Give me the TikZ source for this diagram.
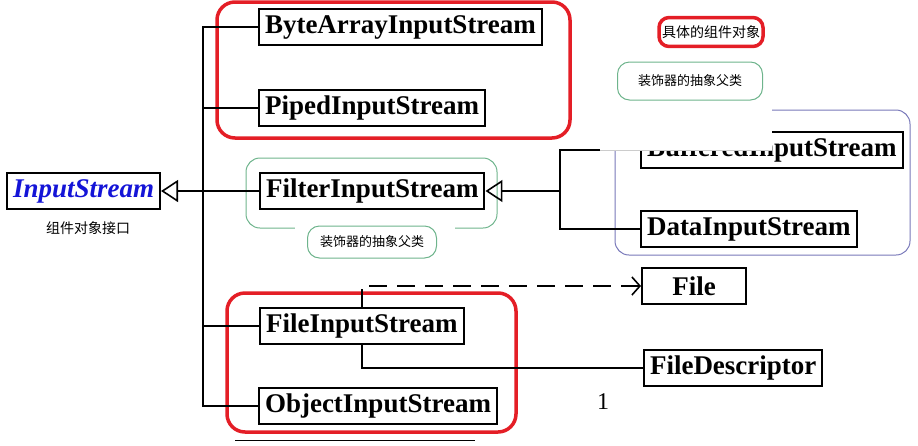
\documentclass[tikz,border=0pt]{standalone}
\usepackage{fontspec}
\setmainfont{Liberation Serif}
\newfontfamily\cjk{Noto Sans CJK SC}
\usetikzlibrary{arrows.meta,positioning}
\definecolor{markred}{RGB}{228,30,38}
\definecolor{decogreen}{RGB}{110,180,140}
\definecolor{grpblue}{RGB}{120,120,185}
\definecolor{ifblue}{RGB}{20,20,215}

\begin{document}
\begin{tikzpicture}[x=1pt, y=-1pt,
  cls/.style={draw, line width=2pt, font=\fontsize{27}{30}\selectfont\bfseries, inner xsep=6pt, inner ysep=0pt, minimum height=36pt, anchor=west},
  conn/.style={line width=2pt},
  inh/.style={conn, -{Triangle[open, length=17pt, width=22pt, line width=1.6pt]}},
  dep/.style={conn, dash pattern=on 18pt off 10pt, -{Straight Barb[length=8pt, width=18pt, line width=1.6pt]}},
  note/.style={font=\cjk\fontsize{14}{16}\selectfont},
  deco/.style={note, draw=decogreen, line width=1pt, rounded corners=12pt, fill=white, font=\cjk\fontsize{13}{15}\selectfont},
  hilite/.style={draw=markred, line width=3.5pt, rounded corners=18pt}]
\useasboundingbox (0,0) rectangle (918,445);
% highlight frames
\draw[hilite] (217,2) rectangle (570,138);
\draw[hilite] (227,293) rectangle (516,432);
\draw[grpblue, line width=1pt, rounded corners=14pt] (615,110) rectangle (910,255);
\draw[decogreen, line width=1pt, rounded corners=14pt] (246,158) rectangle (497,228);
\fill[white] (295,224) rectangle (455,232);
% classes
\node[cls, font=\fontsize{27}{30}\selectfont\bfseries\itshape, text=ifblue] (is) at (6,191) {InputStream};
\node[cls] (bais) at (258,27) {ByteArrayInputStream};
\node[cls] (pis) at (258,108) {PipedInputStream};
\node[cls] (filter) at (259,191) {FilterInputStream};
\node[cls] (bis) at (640,150) {BufferedInputStream};
\node[cls] (dis) at (640,229) {DataInputStream};
\node[cls] (fis) at (259,326) {FileInputStream};
\node[cls] (ois) at (258,406) {ObjectInputStream};
\node[cls, minimum width=104pt] (file) at (641,286) {File};
\node[cls] (fd) at (643,368) {FileDescriptor};
% notes
\node[note] (isnote) at (88,228) {组件对象接口};
\node[deco, minimum width=129pt, minimum height=32pt] (filternote) at (372,242) {装饰器的抽象父类};
\node[deco, minimum width=145pt, minimum height=38pt] (deconote) at (690,81) {装饰器的抽象父类};
\node[note, draw=markred, line width=3.5pt, rounded corners=10pt, inner xsep=3pt, inner ysep=8pt] (concrete) at (711,32) {具体的组件对象};
\node[font=\fontsize{24}{26}\selectfont] (mult) at (603,402) {1};
% connectors
\coordinate (trunk) at (203,0);
\coordinate (split) at (560,0);
\coordinate (tap) at (362,0);
\draw[conn] (bais.west) -| (trunk |- ois.west) -- (ois.west);
\draw[conn] (pis.west) -- (pis.west -| trunk);
\draw[conn] (fis.west) -- (fis.west -| trunk);
\draw[inh] (filter.west) -- (is.east);
\draw[conn] (bis.west) -| (split |- dis.west) -- (dis.west);
\draw[inh] (split |- filter.east) -- (filter.east);
\draw[dep] (fis.north -| tap) |- (file.west);
\draw[conn] (fis.south -| tap) |- (fd.west);
% cut-off parts
\fill[white] (600,103) rectangle (772,150);
\draw[gray!40, line width=0.8pt] (600,150) -- (772,150);
\draw[line width=1pt] (235,440) -- (475,440);
\end{tikzpicture}
\end{document}
